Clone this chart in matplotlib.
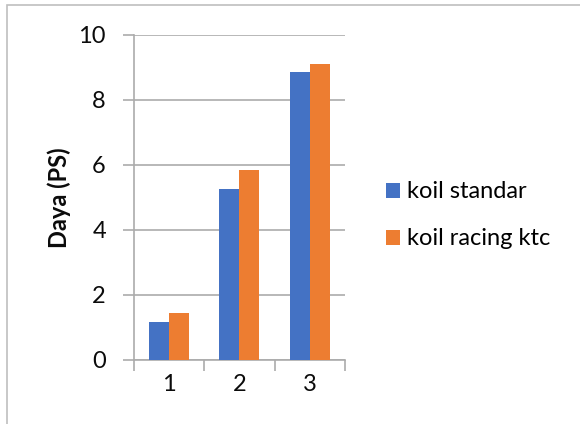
import matplotlib
matplotlib.use("Agg")
import matplotlib.pyplot as plt
from matplotlib.patches import Rectangle
import numpy as np

plt.rcParams["font.family"] = ["Lato", "DejaVu Sans"]

BLUE = "#4472C4"
ORANGE = "#ED7D31"
AXIS = "#ABABAB"
INK = "#0b0b0b"

categories = ["1", "2", "3"]
koil_standar = [1.18, 5.25, 8.87]
koil_racing_ktc = [1.45, 5.84, 9.11]
series_names = ["koil standar", "koil racing ktc"]
y_ticks = [0, 2, 4, 6, 8, 10]

FS = 17

fig = plt.figure(figsize=(5.8, 4.24), dpi=100)
ax = fig.add_axes([0.2305, 0.151, 0.3645, 0.767])

x = np.arange(1, len(categories) + 1)
bar_w = 0.284
ax.bar(x - bar_w / 2, koil_standar, width=bar_w, color=BLUE, label=series_names[0], zorder=3)
ax.bar(x + bar_w / 2, koil_racing_ktc, width=bar_w, color=ORANGE, label=series_names[1], zorder=3)

ax.set_xlim(0.5, len(categories) + 0.5)
ax.set_ylim(0, 10)
ax.set_yticks(y_ticks)
ax.set_yticklabels([str(t) for t in y_ticks], fontsize=FS, color=INK)
ax.set_xticks(x)
ax.set_xticklabels(categories, fontsize=FS, color=INK)
# category boundary ticks on the x axis, like the source
ax.set_xticks(np.arange(0.5, len(categories) + 1), minor=True)
ax.tick_params(axis="x", which="major", length=0, pad=10)
ax.tick_params(axis="x", which="minor", length=8, color=AXIS, width=1.2, direction="out")
ax.tick_params(axis="y", length=8, color=AXIS, width=1.2, direction="out", pad=12)

ax.yaxis.grid(True, color=AXIS, linewidth=1.2, zorder=0)
ax.set_axisbelow(True)
for s in ["top", "right"]:
    ax.spines[s].set_visible(False)
for s in ["left", "bottom"]:
    ax.spines[s].set_color(AXIS)
    ax.spines[s].set_linewidth(1.2)

ax.set_ylabel("Daya (PS)", fontsize=FS, fontweight="bold", color=INK, labelpad=5)

fig.legend(loc="center left", bbox_to_anchor=(0.665, 0.492), frameon=False,
           fontsize=FS, handlelength=0.6, handleheight=0.6, handletextpad=0.3,
           labelspacing=1.1, borderpad=0, borderaxespad=0)

# chart border (cut off at right and bottom like the source)
fig.patches.append(Rectangle((7 / 580, -0.1), 1.2, 1 - 5 / 424 + 0.1, transform=fig.transFigure,
                             fill=False, edgecolor="#BFBFBF", linewidth=1.2))

fig.savefig("out.png", dpi=100, facecolor="white")
